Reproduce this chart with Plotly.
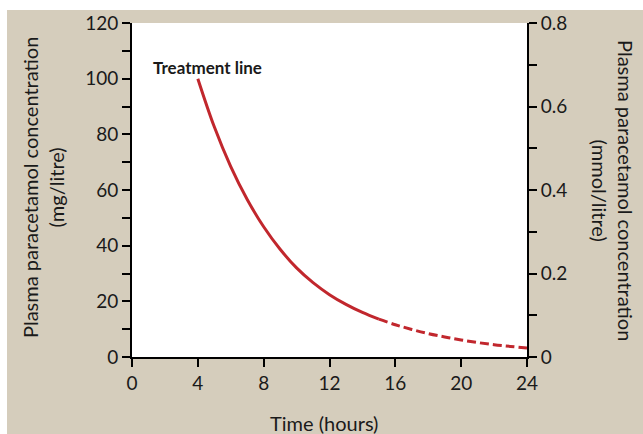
import plotly.graph_objects as go

# Treatment line (mg/litre) read hourly from 4 h to 24 h
hours = [4, 5, 6, 7, 8, 9, 10, 11, 12, 13, 14, 15, 16, 17, 18, 19, 20, 21, 22, 23, 24]
conc_mg = [100, 82.7, 68.4, 56.6, 46.8, 38.7, 32.0, 26.7, 22.4, 18.9, 16.0, 13.6, 11.6, 9.9,
           8.4, 7.2, 6.1, 5.2, 4.4, 3.8, 3.2]
solid_until = 15  # hours; dashed beyond this

x_ticks = [0, 4, 8, 12, 16, 20, 24]
left_range = [0, 120]
right_ticks = [0, 0.2, 0.4, 0.6, 0.8]
right_labels = ["0", "0.2", "0.4", "0.6", "0.8"]

RED = "#c1272d"
INK = "#1a1a1a"
BEIGE = "#d5cdbc"
FONT = "Lato"

split = hours.index(solid_until)
fig = go.Figure()
fig.add_trace(go.Scatter(x=hours[:split + 1], y=conc_mg[:split + 1], mode="lines",
                         line=dict(color=RED, width=3, shape="spline"), showlegend=False,
                         hoverinfo="skip"))
fig.add_trace(go.Scatter(x=hours[split:], y=conc_mg[split:], mode="lines",
                         line=dict(color=RED, width=3, shape="spline", dash="9px,4px"),
                         showlegend=False, hoverinfo="skip"))
# invisible anchor so the right-hand (mmol/litre) axis is drawn
fig.add_trace(go.Scatter(x=[0], y=[0], yaxis="y2", mode="markers", marker=dict(opacity=0),
                         showlegend=False, hoverinfo="skip"))

W, H = 643, 434
L, R, T, B = 132, 116, 23, 77
pw, ph = W - L - R, H - T - B


def px_x(p):
    return (p - L) / pw


def px_y(p):
    return (H - B - p) / ph


axis_common = dict(showline=True, linecolor="black", linewidth=2, ticks="outside",
                   ticklen=8, tickwidth=2, tickcolor="black", showgrid=False, zeroline=False,
                   tickfont=dict(family=FONT, size=19, color=INK))
minor_ticks = dict(ticks="outside", ticklen=8, tickwidth=2, tickcolor="black")

fig.update_layout(
    width=W, height=H, autosize=False,
    margin=dict(l=L, r=R, t=T, b=B, pad=0),
    paper_bgcolor="white", plot_bgcolor="white",
    font=dict(family=FONT, color=INK),
    xaxis=dict(range=[0, 24], tickvals=x_ticks, **axis_common),
    yaxis=dict(range=left_range, dtick=20, minor=dict(dtick=10, **minor_ticks), **axis_common),
    yaxis2=dict(range=[right_ticks[0], right_ticks[-1]], tickvals=right_ticks,
                ticktext=right_labels, overlaying="y", side="right",
                minor=dict(dtick=0.1, **minor_ticks), **axis_common),
    shapes=[
        # beige panel behind the whole chart
        dict(type="rect", xref="paper", yref="paper", layer="below",
             x0=px_x(7), x1=px_x(W), y0=px_y(H), y1=px_y(10),
             fillcolor=BEIGE, line=dict(width=0)),
        # white plotting area
        dict(type="rect", xref="x", yref="y", layer="below",
             x0=0, x1=24, y0=left_range[0], y1=left_range[1],
             fillcolor="white", line=dict(width=0)),
    ],
    annotations=[
        dict(text="Treatment line", x=4.56, y=104, xref="x", yref="y", showarrow=False,
             xanchor="center", yanchor="middle",
             font=dict(family=FONT, size=17, color=INK, weight="bold")),
        dict(text="Time (hours)", xref="paper", yref="paper", x=px_x(324), y=px_y(423),
             xanchor="center", yanchor="middle", showarrow=False,
             font=dict(family=FONT, size=20, color=INK)),
        dict(text="Plasma paracetamol concentration<br>(mg/litre)", xref="paper", yref="paper",
             x=px_x(43), y=px_y(188), textangle=-90, showarrow=False,
             xanchor="center", yanchor="middle",
             font=dict(family=FONT, size=20, color=INK)),
        dict(text="Plasma paracetamol concentration<br>(mmol/litre)", xref="paper", yref="paper",
             x=px_x(613), y=px_y(190), textangle=90, showarrow=False,
             xanchor="center", yanchor="middle",
             font=dict(family=FONT, size=20, color=INK)),
    ],
)

fig.write_html("out.html")
